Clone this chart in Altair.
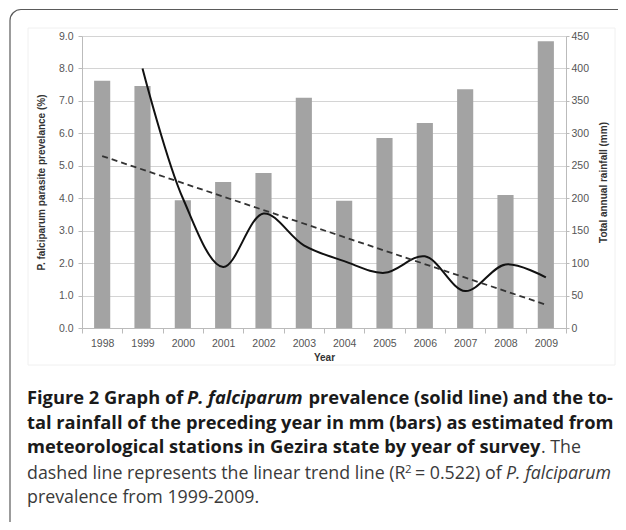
import altair as alt
import pandas as pd

# ---- data ----
years = ["1998", "1999", "2000", "2001", "2002", "2003", "2004", "2005", "2006", "2007", "2008", "2009"]
rainfall_mm = [381, 373, 197, 225, 239, 355, 196, 293, 316, 368, 205, 442]

prev_years = ["1999", "2000", "2001", "2002", "2003", "2004", "2005", "2006", "2007", "2008", "2009"]
prevalence = [8.0, 4.0, 1.88, 3.53, 2.55, 2.06, 1.70, 2.21, 1.14, 1.96, 1.56]

trend_years = ["1998", "2009"]
trend_values = [5.30, 0.72]

left_ticks = [0, 1, 2, 3, 4, 5, 6, 7, 8, 9]
right_ticks = [0, 50, 100, 150, 200, 250, 300, 350, 400, 450]

bars_df = pd.DataFrame({"year": years, "rain": rainfall_mm})
prev_df = pd.DataFrame({"year": prev_years, "prev": prevalence})
trend_df = pd.DataFrame({"year": trend_years, "prev": trend_values})

W, H = 484, 292
FONT = "Liberation Sans"
CAP_FONT = "Open Sans"
BOLD = 18.3
REG = 17.8
LBL = 10.5
TTL = 10

xenc = alt.X(
    "year:O",
    sort=years,
    scale=alt.Scale(domain=years, paddingInner=0, paddingOuter=0),
    axis=alt.Axis(
        title="Year", titleFont=FONT, titleFontSize=TTL, titleFontWeight="bold",
        titleColor="#333333", titlePadding=4,
        labelAngle=0, labelFont=FONT, labelFontSize=LBL, labelColor="#555555",
        labelPadding=5, tickBand="extent", tickSize=5, tickColor="#bbbbbb",
        domainColor="#bbbbbb", grid=False,
    ),
)

box = alt.Chart(pd.DataFrame({"k": [0]})).mark_rect(
    fillOpacity=0, stroke="#5a5a5a", strokeWidth=1.2, cornerRadius=11
).encode(x=alt.value(-72), x2=alt.value(700), y=alt.value(-26.5), y2=alt.value(700))

panel = alt.Chart(pd.DataFrame({"k": [0]})).mark_rect(
    fillOpacity=0, stroke="#f0f0f0", strokeWidth=1
).encode(x=alt.value(-54), x2=alt.value(533), y=alt.value(-8), y2=alt.value(329))

bars = alt.Chart(bars_df).mark_bar(
    color="#a3a3a3", width=alt.RelativeBandSize(0.4)
).encode(
    x=xenc,
    y=alt.Y(
        "rain:Q",
        scale=alt.Scale(domain=[0, 450], nice=False),
        axis=alt.Axis(
            orient="right", values=right_ticks, format="d", grid=False,
            title="Total annual rainfall (mm)", titleFont=FONT, titleFontSize=TTL,
            titleFontWeight="bold", titleColor="#333333", titlePadding=20,
            titleAngle=270,
            labelFont=FONT, labelFontSize=LBL, labelColor="#555555", labelPadding=2,
            tickSize=3, tickColor="#bbbbbb", domainColor="#bbbbbb",
        ),
    ),
)

solid = alt.Chart(prev_df).mark_line(
    color="#111111", strokeWidth=2, interpolate="catmull-rom"
).encode(
    x=xenc,
    y=alt.Y(
        "prev:Q",
        scale=alt.Scale(domain=[0, 9], nice=False),
        axis=alt.Axis(
            orient="left", values=left_ticks, format=".1f", grid=True,
            gridColor="#d4d4d4", gridWidth=1,
            title="P. falciparum parasite prevelance (%)", titleFont=FONT,
            titleFontSize=TTL, titleFontWeight="bold", titleColor="#333333",
            titlePadding=12,
            labelFont=FONT, labelFontSize=LBL, labelColor="#555555", labelPadding=5,
            tickSize=4, tickColor="#bbbbbb", domainColor="#bbbbbb",
        ),
    ),
)

dashed = alt.Chart(trend_df).mark_line(
    color="#333333", strokeWidth=1.8, strokeDash=[6, 4]
).encode(
    x=xenc,
    y=alt.Y("prev:Q", scale=alt.Scale(domain=[0, 9], nice=False), axis=None),
)


def seg(text, x, y, weight="normal", style="normal", size=REG, dy=0, color="#3a3a3a"):
    return alt.Chart(pd.DataFrame({"t": [text]})).mark_text(
        align="left", baseline="alphabetic", font=CAP_FONT, fontSize=size,
        fontWeight=weight, fontStyle=style, color=color, dy=dy,
    ).encode(x=alt.value(x), y=alt.value(y), text="t:N")


INK = "#1a1a1a"
caption = [
    seg("Figure 2 Graph of", -55, 368, "bold", size=BOLD, color=INK),
    seg("P. falciparum", 105, 368, "bold", "italic", size=BOLD, color=INK),
    seg("prevalence (solid line) and the to-", 226.5, 368, "bold", size=BOLD, color=INK),
    seg("tal rainfall of the preceding year in mm (bars) as estimated from", -55, 392.5, "bold", size=BOLD, color=INK),
    seg("meteorological stations in Gezira state by year of survey", -55, 417, "bold", size=BOLD, color=INK),
    seg(". The", 459, 417),
    seg("dashed line represents the linear trend line (R", -55, 443),
    seg("2", 323, 443, size=11.5, dy=-6),
    seg("= 0.522) of", 333, 443),
    seg("P. falciparum", 424, 443, "normal", "italic"),
    seg("prevalence from 1999-2009.", -55, 467),
]

chart = alt.layer(box, panel, bars, solid, dashed, *caption).resolve_scale(
    y="independent"
).properties(
    width=W, height=H,
    autosize=alt.AutoSizeParams(type="none"),
    padding={"left": 74, "top": 28, "right": 52, "bottom": 194},
).configure_view(stroke=None)

chart.save("out.html", embed_options={"renderer": "svg", "actions": False})
